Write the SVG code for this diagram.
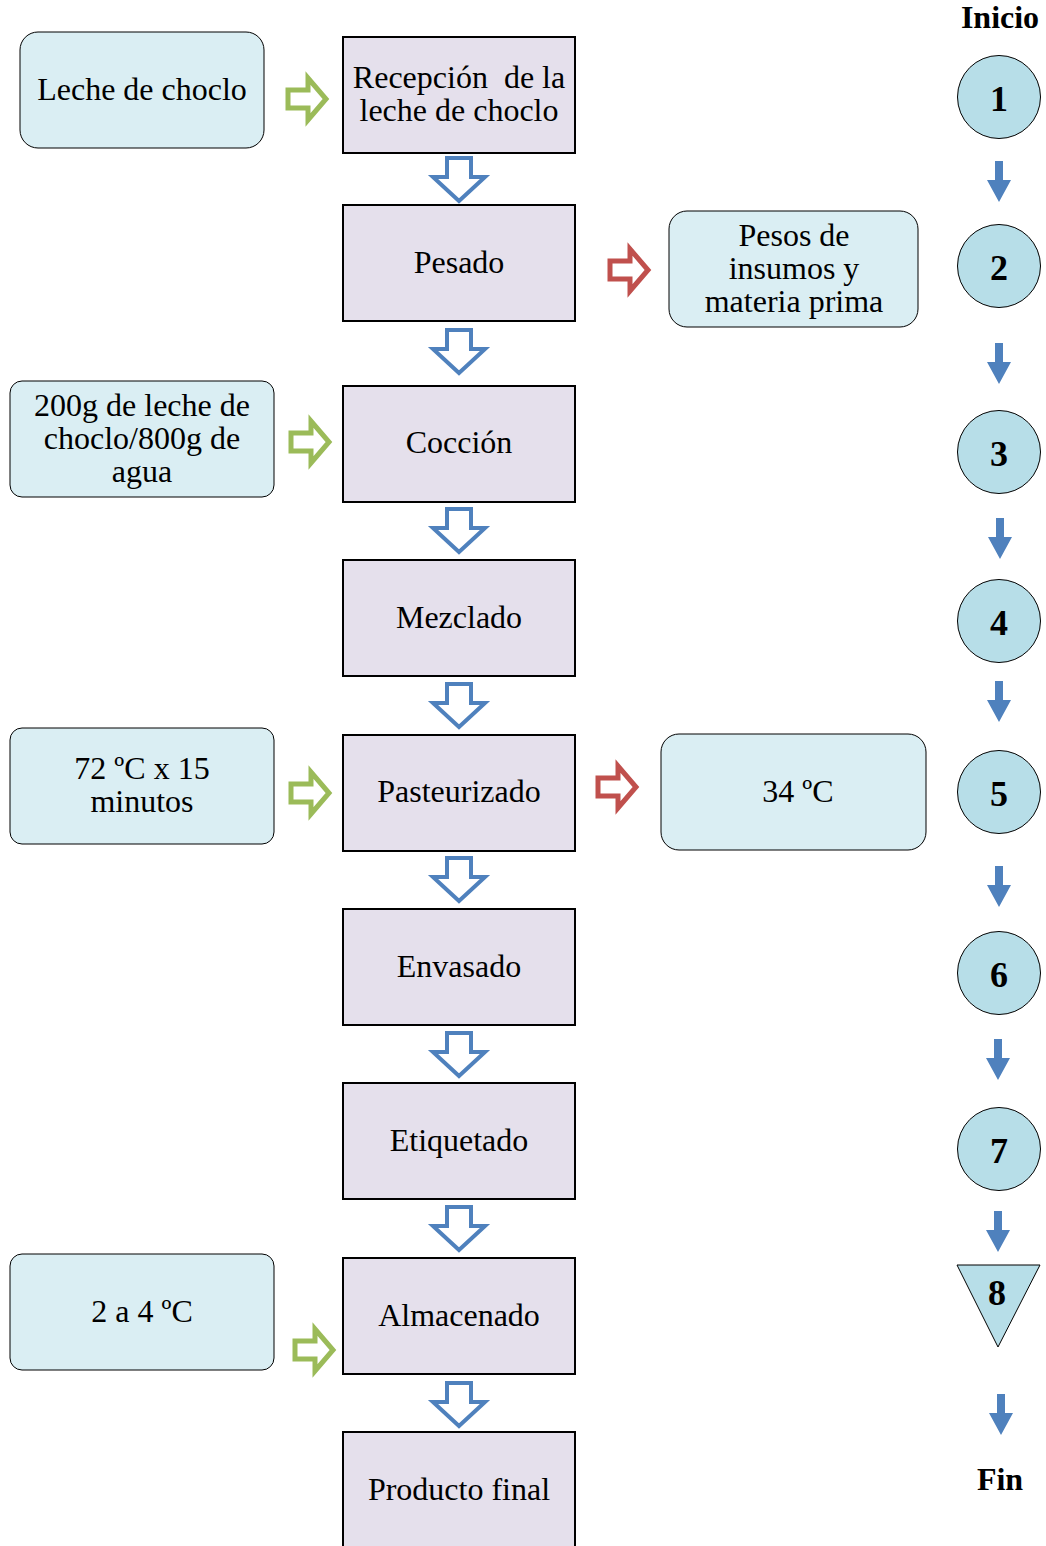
<svg xmlns="http://www.w3.org/2000/svg" width="1046" height="1546" viewBox="0 0 1046 1546">
<defs>
<style>
.proc{fill:#E5E0EC;stroke:#000;stroke-width:2}
.side{fill:#DAEEF3;stroke:#000;stroke-width:1}
.t{font-family:"Liberation Serif","Times New Roman",serif;font-size:32px;fill:#000;text-anchor:middle;white-space:pre}
.b{font-family:"Liberation Serif","Times New Roman",serif;font-weight:bold;fill:#000;text-anchor:middle}
.circ{fill:#B7DEE8;stroke:#000;stroke-width:1}
.down{fill:#fff;stroke:#4F81BD;stroke-width:4}
.gr{fill:#fff;stroke:#9BBB59;stroke-width:5}
.rd{fill:#fff;stroke:#C0504D;stroke-width:5}
.sm{fill:#4F81BD}
</style>
<path id="da" d="M-12,0 H12 V19 H26 L0,43 L-26,19 H-12 Z"/>
<path id="ra" d="M0,-9 H20 V-21 L38,0 L20,21 V9 H0 Z"/>
<path id="sa" d="M-4,0 H4 V19 H12 L0,41 L-12,19 H-4 Z"/>
</defs>

<g id="connectors">
<use href="#da" class="down" x="459" y="158"/>
<use href="#da" class="down" x="459" y="330"/>
<use href="#da" class="down" x="459" y="509"/>
<use href="#da" class="down" x="459" y="684"/>
<use href="#da" class="down" x="459" y="858"/>
<use href="#da" class="down" x="459" y="1033"/>
<use href="#da" class="down" x="459" y="1207"/>
<use href="#da" class="down" x="459" y="1383"/>
<use href="#ra" class="gr" x="288" y="99"/>
<use href="#ra" class="gr" x="291" y="442"/>
<use href="#ra" class="gr" x="291" y="793"/>
<use href="#ra" class="gr" x="295" y="1350"/>
<use href="#ra" class="rd" x="610" y="270"/>
<use href="#ra" class="rd" x="598" y="787"/>
<use href="#sa" class="sm" x="999" y="161"/>
<use href="#sa" class="sm" x="999" y="343"/>
<use href="#sa" class="sm" x="1000" y="518"/>
<use href="#sa" class="sm" x="999" y="681"/>
<use href="#sa" class="sm" x="999" y="866"/>
<use href="#sa" class="sm" x="998" y="1039"/>
<use href="#sa" class="sm" x="998" y="1211"/>
<use href="#sa" class="sm" x="1001" y="1394"/>
</g>

<g id="n-leche"><rect class="side" x="20" y="32" width="244" height="116" rx="18"/><text class="t" x="142" y="100">Leche de choclo</text></g>
<g id="n-recepcion"><rect class="proc" x="343" y="37" width="232" height="116"/><text class="t" x="459" y="88" xml:space="preserve">Recepción  de la</text><text class="t" x="459" y="121">leche de choclo</text></g>
<g id="n-pesado"><rect class="proc" x="343" y="205" width="232" height="116"/><text class="t" x="459" y="273">Pesado</text></g>
<g id="n-pesos"><rect class="side" x="669" y="211" width="249" height="116" rx="18"/><text class="t" x="794" y="246">Pesos de</text><text class="t" x="794" y="279">insumos y</text><text class="t" x="794" y="312">materia prima</text></g>
<g id="n-200g"><rect class="side" x="10" y="381" width="264" height="116" rx="12"/><text class="t" x="142" y="416">200g de leche de</text><text class="t" x="142" y="449">choclo/800g de</text><text class="t" x="142" y="482">agua</text></g>
<g id="n-coccion"><rect class="proc" x="343" y="386" width="232" height="116"/><text class="t" x="459" y="453">Cocción</text></g>
<g id="n-mezclado"><rect class="proc" x="343" y="560" width="232" height="116"/><text class="t" x="459" y="628">Mezclado</text></g>
<g id="n-72"><rect class="side" x="10" y="728" width="264" height="116" rx="12"/><text class="t" x="142" y="779">72 ºC x 15</text><text class="t" x="142" y="812">minutos</text></g>
<g id="n-pasteurizado"><rect class="proc" x="343" y="735" width="232" height="116"/><text class="t" x="459" y="802">Pasteurizado</text></g>
<g id="n-34"><rect class="side" x="661" y="734" width="265" height="116" rx="18"/><text class="t" x="798" y="802">34 ºC</text></g>
<g id="n-envasado"><rect class="proc" x="343" y="909" width="232" height="116"/><text class="t" x="459" y="977">Envasado</text></g>
<g id="n-etiquetado"><rect class="proc" x="343" y="1083" width="232" height="116"/><text class="t" x="459" y="1151">Etiquetado</text></g>
<g id="n-2a4"><rect class="side" x="10" y="1254" width="264" height="116" rx="12"/><text class="t" x="142" y="1322">2 a 4 ºC</text></g>
<g id="n-almacenado"><rect class="proc" x="343" y="1258" width="232" height="116"/><text class="t" x="459" y="1326">Almacenado</text></g>
<g id="n-producto"><rect class="proc" x="343" y="1432" width="232" height="130"/><text class="t" x="459" y="1500">Producto final</text></g>

<g id="n-inicio"><text class="b" x="1000" y="28" font-size="32">Inicio</text></g>
<g id="n-c1"><circle class="circ" cx="999" cy="97" r="41.5"/><text class="b" x="999" y="111" font-size="36">1</text></g>
<g id="n-c2"><circle class="circ" cx="999" cy="266" r="41.5"/><text class="b" x="999" y="280" font-size="36">2</text></g>
<g id="n-c3"><circle class="circ" cx="999" cy="452" r="41.5"/><text class="b" x="999" y="466" font-size="36">3</text></g>
<g id="n-c4"><circle class="circ" cx="999" cy="621" r="41.5"/><text class="b" x="999" y="635" font-size="36">4</text></g>
<g id="n-c5"><circle class="circ" cx="999" cy="792" r="41.5"/><text class="b" x="999" y="806" font-size="36">5</text></g>
<g id="n-c6"><circle class="circ" cx="999" cy="973" r="41.5"/><text class="b" x="999" y="987" font-size="36">6</text></g>
<g id="n-c7"><circle class="circ" cx="999" cy="1149" r="41.5"/><text class="b" x="999" y="1163" font-size="36">7</text></g>
<g id="n-t8"><path class="circ" d="M957,1265 H1040 L998,1347 Z"/><text class="b" x="997" y="1305" font-size="36">8</text></g>
<g id="n-fin"><text class="b" x="1000" y="1490" font-size="32">Fin</text></g>
</svg>
